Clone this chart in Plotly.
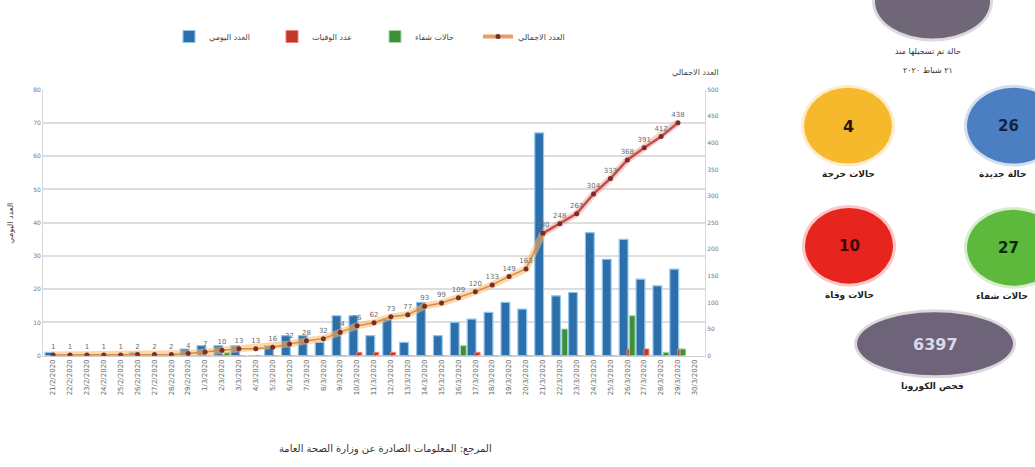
import plotly.graph_objects as go

W, H = 1035, 467

dates = ["21/2/2020", "22/2/2020", "23/2/2020", "24/2/2020", "25/2/2020", "26/2/2020",
         "27/2/2020", "28/2/2020", "29/2/2020", "1/3/2020", "2/3/2020", "3/3/2020",
         "4/3/2020", "5/3/2020", "6/3/2020", "7/3/2020", "8/3/2020", "9/3/2020",
         "10/3/2020", "11/3/2020", "12/3/2020", "13/3/2020", "14/3/2020", "15/3/2020",
         "16/3/2020", "17/3/2020", "18/3/2020", "19/3/2020", "20/3/2020", "21/3/2020",
         "22/3/2020", "23/3/2020", "24/3/2020", "25/3/2020", "26/3/2020", "27/3/2020",
         "28/3/2020", "29/3/2020", "30/3/2020"]

daily = [1, 0, 0, 0, 0, 1, 0, 0, 2, 3, 3, 3, 0, 3, 6, 6, 4, 12, 12, 6,
         11, 4, 16, 6, 10, 11, 13, 16, 14, 67, 18, 19, 37, 29, 35, 23, 21, 26]
deaths = [0, 0, 0, 0, 0, 0, 0, 0, 0, 0, 0, 0, 0, 0, 0, 0, 0, 0, 1, 1,
          1, 0, 0, 0, 0, 1, 0, 0, 0, 0, 0, 0, 0, 0, 2, 2, 0, 2]
recovered = [0, 0, 0, 0, 0, 0, 0, 0, 0, 0, 1, 0, 0, 0, 0, 0, 0, 0, 0, 0,
             0, 0, 0, 0, 3, 0, 0, 0, 0, 0, 8, 0, 0, 0, 12, 0, 1, 2]
total = [1, 1, 1, 1, 1, 2, 2, 2, 4, 7, 10, 13, 13, 16, 22, 28, 32, 44, 56, 62,
         73, 77, 93, 99, 109, 120, 133, 149, 163, 230, 248, 267, 304, 333, 368, 391, 412, 438]

left_ticks = [0, 10, 20, 30, 40, 50, 60, 70, 80]
right_ticks = [0, 50, 100, 150, 200, 250, 300, 350, 400, 450, 500]

stats_values = ["4", "26", "10", "27", "6397"]
stats_labels = ["حالات حرجة", "حالة جديدة", "حالات وفاة", "حالات شفاء", "فحص الكورونا"]

FONT = "DejaVu Sans"


def PX(x):
    return x / W


def PY(y):
    return 1 - y / H


n = len(total)
split = 29
xd = dates[:n]

fig = go.Figure()

fig.add_trace(go.Bar(x=xd, y=daily, name="العدد اليومي", offset=-0.48, width=0.52,
                     marker=dict(color="#2d6fab", line=dict(color="#8fc6ee", width=1.2))))
fig.add_trace(go.Bar(x=xd, y=deaths, name="عدد الوفيات", offset=-0.02, width=0.3,
                     marker=dict(color="#c0392b", line=dict(color="#f08070", width=1))))
fig.add_trace(go.Bar(x=xd, y=recovered, name="حالات شفاء", offset=0.12, width=0.34,
                     marker=dict(color="#3f8f3a", line=dict(color="#a8d8a0", width=1))))

# glow under the cumulative line
fig.add_trace(go.Scatter(x=xd[:split + 1], y=total[:split + 1], yaxis="y2", mode="lines",
                         line=dict(color="rgba(248,185,110,0.55)", width=7),
                         showlegend=False, hoverinfo="skip"))
fig.add_trace(go.Scatter(x=xd[split:], y=total[split:], yaxis="y2", mode="lines",
                         line=dict(color="rgba(235,150,140,0.45)", width=7),
                         showlegend=False, hoverinfo="skip"))
fig.add_trace(go.Scatter(x=xd[:split + 1], y=total[:split + 1], yaxis="y2", mode="lines",
                         line=dict(color="#d98a45", width=1.5),
                         showlegend=False, hoverinfo="skip"))
fig.add_trace(go.Scatter(x=xd[split:], y=total[split:], yaxis="y2", mode="lines",
                         line=dict(color="#c0504d", width=2.5),
                         showlegend=False, hoverinfo="skip"))
fig.add_trace(go.Scatter(x=xd, y=total, yaxis="y2", mode="markers+text", showlegend=False,
                         text=[str(v) for v in total], textposition="top center",
                         textfont=dict(size=7, color="#6b6b6b", family=FONT),
                         marker=dict(color="#7a2d25", size=5, symbol="circle")))
# legend entry for the cumulative line
fig.add_trace(go.Scatter(x=[None], y=[None], yaxis="y2", mode="lines+markers",
                         name="العدد الاجمالي",
                         line=dict(color="#e8a068", width=4),
                         marker=dict(color="#7a2d25", size=5)))

fig.update_layout(
    width=W, height=H,
    margin=dict(l=0, r=0, t=0, b=0),
    paper_bgcolor="white", plot_bgcolor="white",
    barmode="overlay",
    font=dict(family=FONT, size=8, color="#555"),
    xaxis=dict(domain=[PX(43), PX(705)], type="category", categoryarray=dates,
               tickvals=dates, ticktext=dates,
               range=[-0.6, len(dates) - 0.4], tickangle=-90,
               tickfont=dict(size=7, color="#666"), showgrid=False,
               showline=True, linecolor="#d0d0d0", linewidth=1, ticks=""),
    yaxis=dict(domain=[PY(357), PY(87)], range=[0, 80], tickvals=left_ticks,
               tickfont=dict(size=6, color="#777"), gridcolor="#dedede", gridwidth=1.6,
               showline=True, linecolor="#d8d8d8", zeroline=False),
    yaxis2=dict(overlaying="y", side="right", range=[0, 500], tickvals=right_ticks,
                tickfont=dict(size=6, color="#777"), showgrid=False,
                showline=True, linecolor="#d8d8d8", zeroline=False),
    legend=dict(orientation="h", x=PX(375), xanchor="center", y=PY(33), yanchor="middle",
                font=dict(size=8, color="#444"), entrywidth=58, entrywidthmode="pixels",
                itemwidth=30, bgcolor="rgba(0,0,0,0)"),
    showlegend=True,
)

annotations = [
    dict(x=PX(11), y=PY(223), text="العدد اليومي", textangle=-90, font=dict(size=8, color="#444")),
    dict(x=PX(695), y=PY(70), text="العدد الاجمالي", font=dict(size=8, color="#444")),
    dict(x=PX(385), y=PY(452), text="المرجع: المعلومات الصادرة عن وزارة الصحة العامة",
         font=dict(size=10, color="#333")),
    dict(x=PX(928), y=PY(48), text="حالة تم تسجيلها منذ", font=dict(size=8, color="#333")),
    dict(x=PX(928), y=PY(68), text="٢١ شباط ٢٠٢٠", font=dict(size=8, color="#333")),
]

shapes = []
circles = [
    # (x0, y0, x1, y1, fill)
    (875, -40, 990, 35, "#6f6678"),
    (804, 85, 892, 162, "#f6b92c"),
    (967, 85, 1060, 162, "#4b7fc2"),
    (805, 207, 893, 284, "#e8241f"),
    (967, 209, 1060, 286, "#5cb93c"),
    (857, 313, 1013, 377, "#6e6479"),
]
for x0, y0, x1, y1, c in circles:
    shapes.append(dict(type="circle", xref="paper", yref="paper",
                       x0=PX(x0 - 3), x1=PX(x1 + 3), y0=PY(y1 + 3), y1=PY(y0 - 3),
                       fillcolor=c, opacity=0.25, line=dict(width=0), layer="above"))
    shapes.append(dict(type="circle", xref="paper", yref="paper",
                       x0=PX(x0), x1=PX(x1), y0=PY(y1), y1=PY(y0),
                       fillcolor=c, line=dict(width=0), layer="above"))

num_pos = [(848, 124, "#2a1a05", 16), (1008, 124, "#15233f", 15), (849, 246, "#3a0606", 15),
           (1008, 248, "#0d2a0b", 15), (935, 346, "#dcd8e8", 16)]
lab_pos = [(848, 173), (1002, 173), (849, 296), (1002, 296), (932, 388)]
for v, (x, y, c, s) in zip(stats_values, num_pos):
    annotations.append(dict(x=PX(x), y=PY(y), text=f"<b>{v}</b>", font=dict(size=s, color=c)))
for t, (x, y) in zip(stats_labels, lab_pos):
    annotations.append(dict(x=PX(x), y=PY(y), text=f"<b>{t}</b>", font=dict(size=9, color="#222")))

for a in annotations:
    a.update(xref="paper", yref="paper", showarrow=False, xanchor="center", yanchor="middle")

fig.update_layout(annotations=annotations, shapes=shapes)

fig.write_html("out.html", config={"displayModeBar": False},
               post_script="document.body.style.margin='0';document.body.style.padding='0';")
